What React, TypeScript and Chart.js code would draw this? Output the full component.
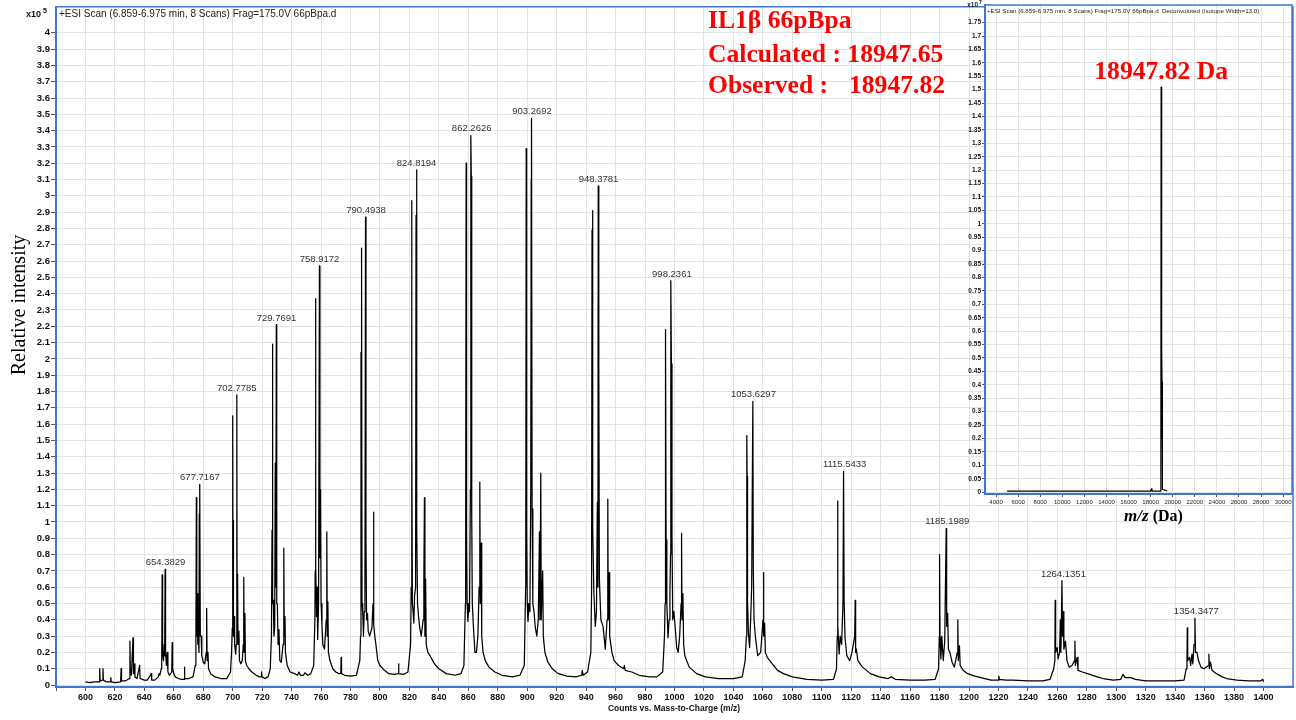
import React, { useEffect, useRef } from "react";
import { Chart, registerables } from "chart.js";
Chart.register(...registerables);

// ---------- axis ticks ----------
const xTickValues = [600,620,640,660,680,700,720,740,760,780,800,820,840,860,880,900,920,940,960,980,1000,1020,1040,1060,1080,1100,1120,1140,1160,1180,1200,1220,1240,1260,1280,1300,1320,1340,1360,1380,1400];
const yTickValues = [0,0.1,0.2,0.3,0.4,0.5,0.6,0.7,0.8,0.9,1,1.1,1.2,1.3,1.4,1.5,1.6,1.7,1.8,1.9,2,2.1,2.2,2.3,2.4,2.5,2.6,2.7,2.8,2.9,3,3.1,3.2,3.3,3.4,3.5,3.6,3.7,3.8,3.9,4];
const insetXTickValues = [4000,6000,8000,10000,12000,14000,16000,18000,20000,22000,24000,26000,28000,30000];
const insetYTickValues = [0,0.05,0.1,0.15,0.2,0.25,0.3,0.35,0.4,0.45,0.5,0.55,0.6,0.65,0.7,0.75,0.8,0.85,0.9,0.95,1,1.05,1.1,1.15,1.2,1.25,1.3,1.35,1.4,1.45,1.5,1.55,1.6,1.65,1.7,1.75];

// ---------- labelled peaks (m/z, intensity x10^5) ----------
const peakLabels = ["654.3829","677.7167","702.7785","729.7691","758.9172","790.4938","824.8194","862.2626","903.2692","948.3781","998.2361","1053.6297","1115.5433","1185.1989","1264.1351","1354.3477"];
const peakLabelMz = [654.3829,677.7167,702.7785,729.7691,758.9172,790.4938,824.8194,862.2626,903.2692,948.3781,998.2361,1053.6297,1115.5433,1185.1989,1264.1351,1354.3477];
const peakLabelHeight = [0.71,1.23,1.78,2.21,2.57,2.87,3.16,3.37,3.475,3.06,2.48,1.74,1.31,0.96,0.64,0.41];

// ---------- ESI spectrum trace, [m/z, intensity x10^5] ----------
const segLow = [[600,0.02],[603,0.015],[606,0.02],[609.4,0.02],[609.7,0.10],[610,0.025],[611.6,0.03],[611.9,0.10],[612.2,0.03],[614,0.02],[617,0.02],[617.2,0.045],[617.5,0.02],[620,0.015],[623.9,0.02],[624.2,0.10],[624.5,0.025],[627,0.025],[629.9,0.04],[630.2,0.27],[630.5,0.08],[631.2,0.06],[632.3,0.29],[632.6,0.07],[633.3,0.13],[633.6,0.05],[635,0.04],[636.8,0.12],[637.1,0.04],[640,0.03],[642,0.03],[644.7,0.07],[645,0.03],[647,0.03],[649.5,0.05],[650,0.07],[650.5,0.06]];
const seg654 = [[651.5,0.1],[651.8,0.16],[652.1,0.675],[652.4,0.2],[653,0.15],[653.5,0.25],[653.8,0.18],[654.1,0.71],[654.4,0.2],[655,0.12],[655.5,0.2],[656,0.08],[657,0.06],[658.6,0.08],[658.9,0.26],[659.2,0.1],[660,0.07],[661,0.05],[663,0.04],[665,0.035],[667,0.035],[667.2,0.11],[667.5,0.04],[670,0.04],[673,0.05]];
const seg677 = [[674.6,0.12],[675.0,0.25],[675.3,1.15],[675.6,0.3],[676.0,0.56],[676.3,0.25],[676.8,0.27],[677.1,0.2],[677.3,1.05],[677.5,0.35],[677.7,1.23],[678.0,0.3],[678.6,0.3],[679,0.18],[680,0.14],[681,0.13],[682.0,0.2],[682.3,0.47],[682.6,0.15],[683.2,0.2],[683.6,0.1],[685,0.07],[688,0.05],[692,0.04],[696,0.04],[698.5,0.08],[699.2,0.2]];
const seg702 = [[699.7,0.35],[700.0,1.65],[700.2,0.5],[700.4,1.01],[700.6,0.3],[701.0,0.42],[701.3,0.25],[702.0,0.19],[702.4,0.25],[702.8,1.78],[703.0,0.3],[703.3,0.68],[703.6,0.25],[704.2,0.33],[704.6,0.15],[705.5,0.13],[706.5,0.15],[707.2,0.25],[707.5,0.66],[707.8,0.2],[708.3,0.44],[708.6,0.15],[709.5,0.12],[711,0.1],[713,0.08],[716,0.06],[718,0.05],[719.4,0.05],[719.6,0.08],[719.9,0.05],[722,0.04],[724,0.05],[725.5,0.1],[726.3,0.3]];
const seg729 = [[726.7,0.95],[727.0,2.09],[727.2,0.5],[727.6,0.52],[728.0,0.3],[728.5,0.35],[728.9,1.36],[729.3,0.6],[729.6,2.21],[729.9,0.5],[730.3,0.5],[730.8,0.25],[731.4,0.34],[732,0.15],[733,0.14],[734.2,0.25],[734.7,0.84],[735,0.3],[735.5,0.42],[735.8,0.2],[737,0.12],[739,0.08],[742,0.07],[744,0.06],[745,0.08],[746,0.06],[748,0.06],[749,0.075],[751,0.06],[753,0.07],[755,0.12],[755.8,0.4]];
const seg758 = [[756.0,0.7],[756.2,2.37],[756.5,0.74],[756.9,0.42],[757.3,0.6],[757.7,0.28],[758.3,0.5],[758.9,2.57],[759.2,0.78],[759.6,1.2],[760,0.5],[760.6,0.37],[761.2,0.25],[762.3,0.22],[763.5,0.4],[763.9,0.94],[764.2,0.3],[764.6,0.51],[765,0.2],[766,0.15],[768,0.1],[770,0.08],[772,0.07],[773.4,0.07],[773.6,0.17],[773.9,0.07],[776,0.06],[780,0.055],[784,0.06],[786.3,0.15]];
const seg790 = [[786.8,0.3],[787.1,2.04],[787.3,0.6],[787.5,2.68],[787.8,0.5],[788.3,0.44],[788.8,0.3],[789.3,0.45],[789.8,0.6],[790.2,2.87],[790.5,0.89],[790.9,0.4],[791.5,0.44],[792,0.33],[793,0.3],[794.5,0.35],[795.3,0.5],[795.6,1.06],[795.9,0.37],[796.5,0.3],[797.2,0.25],[798.5,0.15],[800,0.12],[803,0.09],[806,0.07],[810,0.065],[812.4,0.07],[812.6,0.13],[812.9,0.07],[816,0.065],[819,0.08],[820.8,0.25]];
const seg824 = [[821.2,0.6],[821.5,2.97],[821.7,1.54],[822,0.5],[822.5,0.45],[823,0.38],[823.5,0.55],[824.2,0.6],[824.5,2.88],[824.8,3.16],[825.1,0.96],[825.5,0.5],[826.3,0.41],[827,0.35],[828,0.3],[829.3,0.4],[829.8,0.65],[830.2,1.15],[830.5,0.3],[831,0.65],[831.4,0.25],[832.5,0.2],[834,0.18],[837,0.13],[840,0.1],[845,0.07],[851,0.06],[855,0.07],[857,0.12],[858,0.5]];
const seg862 = [[858.2,0.8],[858.5,3.2],[858.8,0.92],[859.2,0.5],[859.7,0.39],[860.3,0.5],[860.8,0.45],[861.4,1.2],[861.7,3.37],[862.0,3.12],[862.3,1.05],[862.7,0.5],[863.5,0.35],[864.5,0.2],[865.5,0.2],[866.5,0.3],[867.3,0.6],[867.8,1.245],[868.1,0.5],[868.7,0.87],[869.1,0.3],[870,0.2],[871.5,0.15],[874,0.11],[878,0.08],[883,0.06],[890,0.05],[895,0.06],[898,0.12],[898.9,0.6]];
const seg903 = [[899.0,0.8],[899.3,3.29],[899.6,0.98],[900.0,0.5],[900.5,0.39],[901.2,0.5],[901.8,0.45],[902.4,1.2],[902.7,3.1],[902.9,3.475],[903.3,1.08],[903.8,0.5],[904.6,0.45],[905.5,0.35],[906.5,0.3],[907.5,0.4],[908.3,0.94],[908.6,0.4],[909.2,1.30],[909.5,0.4],[910.5,0.7],[910.9,0.3],[912,0.2],[914,0.14],[917,0.1],[921,0.07],[927,0.055],[933,0.05],[937,0.06],[937.4,0.09],[938,0.06],[941,0.08],[943.2,0.2]];
const seg948 = [[943.7,0.6],[944.0,2.79],[944.3,2.91],[944.6,0.97],[945.2,0.58],[946.2,0.36],[947.0,0.45],[947.6,1.12],[948.0,0.6],[948.2,3.06],[948.6,1.945],[949.0,0.65],[950,0.4],[951.5,0.36],[953,0.22],[954.2,0.4],[954.7,1.14],[955.0,0.4],[955.6,0.69],[956,0.3],[957.5,0.2],[959,0.15],[962,0.12],[965.5,0.1],[966,0.12],[966.5,0.09],[971,0.08],[976,0.06],[983,0.05],[988,0.05],[992,0.08],[993.2,0.3]];
const seg998 = [[993.6,0.5],[993.9,2.18],[994.3,0.89],[994.8,0.5],[995.6,0.29],[996.3,0.4],[996.9,0.57],[997.3,0.8],[997.5,2.48],[997.9,1.97],[998.3,0.91],[998.8,0.4],[999.6,0.45],[1000.5,0.35],[1001.5,0.23],[1002.5,0.2],[1003.5,0.3],[1004.5,0.5],[1004.8,0.93],[1005.1,0.4],[1005.7,0.56],[1006.2,0.25],[1007,0.18],[1010,0.11],[1015,0.07],[1021,0.05],[1030,0.04],[1040,0.04],[1046,0.05],[1048,0.15]];
const seg1053 = [[1048.8,0.3],[1049.1,1.53],[1049.3,1.28],[1049.6,0.51],[1050.2,0.32],[1051.0,0.23],[1051.7,0.4],[1052.4,0.6],[1053.2,1.74],[1053.5,0.72],[1054.0,0.4],[1055.0,0.29],[1056.5,0.18],[1058.5,0.2],[1060.1,0.4],[1060.4,0.69],[1060.7,0.3],[1061.2,0.38],[1061.7,0.2],[1063,0.17],[1066.4,0.13],[1070,0.09],[1074,0.07],[1080,0.05],[1090,0.035],[1100,0.03],[1108,0.035],[1110,0.1]];
const seg1115 = [[1110.5,0.3],[1110.7,1.13],[1111.0,0.37],[1111.8,0.19],[1112.5,0.3],[1113.5,0.25],[1114.4,0.5],[1114.8,1.31],[1115.2,0.51],[1115.8,0.29],[1117,0.18],[1119,0.15],[1120.5,0.2],[1122.4,0.3],[1122.7,0.52],[1123,0.2],[1123.5,0.22],[1124.5,0.15],[1127.7,0.11],[1133,0.07],[1139,0.05],[1145,0.04],[1147.2,0.05],[1150,0.035],[1160,0.03],[1170,0.03],[1177,0.035],[1179.3,0.1]];
const seg1185 = [[1179.8,0.3],[1180.0,0.80],[1180.3,0.29],[1180.9,0.16],[1181.5,0.3],[1182.5,0.15],[1183.5,0.27],[1184.5,0.96],[1184.8,0.36],[1185.5,0.44],[1186.0,0.22],[1187,0.2],[1188.5,0.14],[1190,0.11],[1192.1,0.2],[1192.4,0.40],[1192.7,0.15],[1193.5,0.24],[1194,0.12],[1196,0.09],[1199,0.07],[1204,0.055],[1208,0.045],[1215,0.03],[1219.9,0.03],[1220.2,0.055],[1220.6,0.035],[1225,0.03],[1230,0.03],[1240,0.025],[1250,0.025],[1255,0.035],[1257.5,0.1]];
const seg1264 = [[1258.3,0.15],[1258.5,0.52],[1258.8,0.2],[1259.9,0.23],[1260.5,0.16],[1261.5,0.2],[1262.0,0.4],[1262.4,0.2],[1263.1,0.64],[1263.5,0.3],[1264,0.45],[1264.4,0.22],[1265.5,0.27],[1266.5,0.15],[1268,0.11],[1270,0.12],[1271.6,0.15],[1271.9,0.27],[1272.2,0.12],[1273.4,0.17],[1274,0.09],[1277,0.08],[1282,0.065],[1287,0.05],[1291,0.04],[1298,0.03],[1303,0.035],[1304.5,0.065],[1306,0.045],[1310,0.045],[1313,0.035],[1320,0.025],[1330,0.025],[1340,0.025],[1346,0.03],[1347.5,0.1]];
const seg1354 = [[1348.0,0.12],[1348.2,0.35],[1348.5,0.15],[1349.8,0.17],[1350.5,0.12],[1351.4,0.19],[1352,0.13],[1352.8,0.25],[1353.4,0.41],[1353.8,0.2],[1354.8,0.2],[1355.8,0.15],[1357.5,0.11],[1359.5,0.1],[1362.6,0.12],[1362.9,0.19],[1363.2,0.1],[1364,0.14],[1365,0.09],[1368,0.07],[1372,0.05],[1375,0.04],[1382,0.03],[1390,0.025],[1398,0.025],[1399.5,0.035],[1400,0.02]];

// ---------- deconvoluted spectrum (mass in Da, intensity x10^7) ----------
const deconvMass = [5000,9000,14000,18000,18060,18120,18880,18925,18947.82,18985,19010,19030,19050,19080,19500];
const deconvIntensity = [0.004,0.004,0.004,0.004,0.012,0.004,0.004,0.16,1.51,0.2,0.53,0.41,0.16,0.01,0.004];

// ---------- texts ----------
const mainTitle = "+ESI Scan (6.859-6.975 min, 8 Scans) Frag=175.0V 66pBpa.d";
const insetTitle = "+ESI Scan (6.859-6.975 min, 8 Scans) Frag=175.0V 66pBpa.d  Deconvoluted (Isotope Width=13.0)";
const xAxisTitle = "Counts vs. Mass-to-Charge (m/z)";
const yAxisTitle = "Relative intensity";
const noteLines = ["IL1\u03b2 66pBpa", "Calculated : 18947.65", "Observed :"];
const observedValue = "18947.82";
const insetPeakText = "18947.82 Da";

const SANS = '"Liberation Sans", Arial, sans-serif';
const SERIF = '"Liberation Serif", "Times New Roman", serif';
const BLUE = "#3f76d4";
const GRID = "#e3e3e3";

const fmt = (v: number) => String(Math.round(v * 100) / 100);

const spectrum = [segLow, seg654, seg677, seg702, seg729, seg758, seg790, seg824, seg862, seg903, seg948, seg998, seg1053, seg1115, seg1185, seg1264, seg1354]
  .flat()
  .map(([x, y]) => ({ x, y }));

const mainPlugin = {
  id: "mainDecor",
  afterDatasetsDraw(chart: any) {
    const { ctx, scales } = chart;
    ctx.save();
    ctx.font = `9.5px ${SANS}`;
    ctx.fillStyle = "#333";
    ctx.textAlign = "center";
    ctx.textBaseline = "bottom";
    peakLabels.forEach((t, i) => {
      const x = scales.x.getPixelForValue(peakLabelMz[i]);
      const y = scales.y.getPixelForValue(peakLabelHeight[i]);
      ctx.fillText(t, x, y - 2);
    });
    ctx.restore();
  },
  afterDraw(chart: any) {
    const { ctx, chartArea: a } = chart;
    ctx.save();
    ctx.strokeStyle = BLUE;
    ctx.lineWidth = 1.5;
    ctx.beginPath();
    ctx.moveTo(a.left, a.top);
    ctx.lineTo(a.right, a.top);
    ctx.lineTo(a.right, a.bottom);
    ctx.stroke();

    ctx.fillStyle = "#222";
    ctx.textBaseline = "middle";
    ctx.textAlign = "left";
    ctx.font = `10px ${SANS}`;
    ctx.fillText(mainTitle, a.left + 3, 14);

    ctx.fillStyle = "#111";
    ctx.font = `bold 9px ${SANS}`;
    ctx.textAlign = "right";
    ctx.fillText("x10", 41, 15);
    ctx.font = `bold 7px ${SANS}`;
    ctx.textAlign = "left";
    ctx.fillText("5", 43, 11);

    ctx.font = `bold 8.5px ${SANS}`;
    ctx.textAlign = "center";
    ctx.fillText(xAxisTitle, 674, 709);

    ctx.save();
    ctx.translate(20, 305);
    ctx.rotate(-Math.PI / 2);
    ctx.font = `20px ${SERIF}`;
    ctx.fillStyle = "#000";
    ctx.textAlign = "center";
    ctx.fillText(yAxisTitle, 0, 0);
    ctx.restore();

    ctx.fillStyle = "#ff0000";
    ctx.textAlign = "left";
    ctx.textBaseline = "alphabetic";
    ctx.font = `bold 25.6px ${SERIF}`;
    ctx.fillText(noteLines[0], 708, 28);
    ctx.fillText(noteLines[1], 708, 61.5);
    ctx.fillText(noteLines[2], 708, 93);
    ctx.fillText(observedValue, 849, 93);
    ctx.restore();
  },
};

const insetPlugin = {
  id: "insetDecor",
  beforeDraw(chart: any) {
    const { ctx, chartArea: a } = chart;
    ctx.save();
    ctx.fillStyle = "#ffffff";
    ctx.fillRect(a.left, a.top, a.right - a.left, a.bottom - a.top);
    ctx.restore();
  },
  afterDraw(chart: any) {
    const { ctx, chartArea: a, scales } = chart;
    ctx.save();
    ctx.strokeStyle = BLUE;
    ctx.lineWidth = 1.5;
    ctx.beginPath();
    ctx.moveTo(a.left, a.top);
    ctx.lineTo(a.right, a.top);
    ctx.lineTo(a.right, a.bottom);
    ctx.stroke();

    ctx.fillStyle = "#222";
    ctx.textBaseline = "middle";
    ctx.textAlign = "left";
    ctx.font = `6.2px ${SANS}`;
    ctx.fillText(insetTitle, a.left + 2, 11);

    ctx.font = `bold 6.5px ${SANS}`;
    ctx.textAlign = "right";
    ctx.fillText("x10", 23, 5);
    ctx.font = `bold 5px ${SANS}`;
    ctx.textAlign = "left";
    ctx.fillText("7", 24, 3);

    ctx.fillStyle = "#ff0000";
    ctx.textBaseline = "alphabetic";
    ctx.textAlign = "center";
    ctx.font = `bold 25.6px ${SERIF}`;
    const px = scales.x.getPixelForValue(18947.82);
    ctx.fillText(insetPeakText, px, 79);

    ctx.fillStyle = "#000";
    ctx.textBaseline = "middle";
    ctx.textAlign = "left";
    ctx.font = `italic bold 17px ${SERIF}`;
    const w1 = ctx.measureText("m/z").width;
    ctx.font = `bold 16px ${SERIF}`;
    const w2 = ctx.measureText(" (Da)").width;
    const cx = (a.left + a.right) / 2 + 15;
    let sx = cx - (w1 + w2) / 2;
    ctx.font = `italic bold 17px ${SERIF}`;
    ctx.fillText("m/z", sx, 517);
    ctx.font = `bold 16px ${SERIF}`;
    ctx.fillText(" (Da)", sx + w1, 517);
    ctx.restore();
  },
};

export default function App() {
  const mainRef = useRef<HTMLCanvasElement>(null);
  const insetRef = useRef<HTMLCanvasElement>(null);

  useEffect(() => {
    const main = new Chart(mainRef.current as HTMLCanvasElement, {
      type: "line",
      data: {
        datasets: [
          {
            data: spectrum,
            borderColor: "#000",
            borderWidth: 1.25,
            pointRadius: 0,
            tension: 0,
            fill: false,
            borderJoinStyle: "round",
          } as any,
        ],
      },
      options: {
        animation: false,
        responsive: false,
        events: [],
        layout: { padding: { left: 0, right: 3, top: 3, bottom: 0 } },
        plugins: { legend: { display: false }, tooltip: { enabled: false } },
        scales: {
          x: {
            type: "linear",
            min: 580,
            max: 1420,
            afterBuildTicks: (s: any) => {
              s.ticks = [580, ...xTickValues].map((v) => ({ value: v }));
            },
            afterFit: (s: any) => {
              s.height = 33;
            },
            ticks: {
              autoSkip: false,
              maxRotation: 0,
              minRotation: 0,
              padding: 1,
              color: "#111",
              font: { family: SANS, size: 9, weight: "bold" },
              callback: (v: any) => (xTickValues.includes(v) ? String(v) : ""),
            },
            grid: { color: GRID, lineWidth: 1, tickLength: 4, tickColor: "#555" },
            border: { display: true, color: BLUE, width: 2 },
          },
          y: {
            type: "linear",
            min: -0.012,
            max: 4.16,
            afterBuildTicks: (s: any) => {
              s.ticks = yTickValues.map((v) => ({ value: v }));
            },
            afterFit: (s: any) => {
              s.width = 56;
            },
            ticks: {
              autoSkip: false,
              padding: 1,
              color: "#111",
              font: { family: SANS, size: 9.5, weight: "bold" },
              callback: (v: any) => fmt(v),
            },
            grid: { color: GRID, lineWidth: 1, tickLength: 5, tickColor: "#555" },
            border: { display: true, color: BLUE, width: 2 },
          },
        },
      } as any,
      plugins: [mainPlugin],
    });

    const inset = new Chart(insetRef.current as HTMLCanvasElement, {
      type: "line",
      data: {
        datasets: [
          {
            data: deconvMass.map((x, i) => ({ x, y: deconvIntensity[i] })),
            borderColor: "#000",
            borderWidth: 1.2,
            pointRadius: 0,
            tension: 0,
            fill: false,
            borderJoinStyle: "round",
          } as any,
        ],
      },
      options: {
        animation: false,
        responsive: false,
        events: [],
        layout: { padding: { left: 0, right: 4, top: 3, bottom: 0 } },
        plugins: { legend: { display: false }, tooltip: { enabled: false } },
        scales: {
          x: {
            type: "linear",
            min: 3000,
            max: 30800,
            afterBuildTicks: (s: any) => {
              s.ticks = insetXTickValues.map((v) => ({ value: v }));
            },
            afterFit: (s: any) => {
              s.height = 41;
            },
            ticks: {
              autoSkip: false,
              maxRotation: 0,
              minRotation: 0,
              padding: 2,
              color: "#222",
              font: { family: SANS, size: 6 },
              callback: (v: any) => String(v),
            },
            grid: { color: GRID, lineWidth: 1, tickLength: 3, tickColor: "#555" },
            border: { display: true, color: BLUE, width: 2 },
          },
          y: {
            type: "linear",
            min: -0.007,
            max: 1.816,
            afterBuildTicks: (s: any) => {
              s.ticks = insetYTickValues.map((v) => ({ value: v }));
            },
            afterFit: (s: any) => {
              s.width = 30;
            },
            ticks: {
              autoSkip: false,
              padding: 1,
              color: "#111",
              font: { family: SANS, size: 6.5, weight: "bold" },
              callback: (v: any) => fmt(v),
            },
            grid: { color: GRID, lineWidth: 1, tickLength: 3, tickColor: "#555" },
            border: { display: true, color: BLUE, width: 2 },
          },
        },
      } as any,
      plugins: [insetPlugin],
    });

    return () => {
      main.destroy();
      inset.destroy();
    };
  }, []);

  return (
    <div style={{ position: "fixed", left: 0, top: 0, width: 1296, height: 720, background: "#fff", overflow: "hidden" }}>
      <canvas ref={mainRef} width={1296} height={720} style={{ position: "absolute", left: 0, top: 0, width: 1296, height: 720 }} />
      <canvas ref={insetRef} width={341} height={535} style={{ position: "absolute", left: 955, top: 0, width: 341, height: 535 }} />
    </div>
  );
}
